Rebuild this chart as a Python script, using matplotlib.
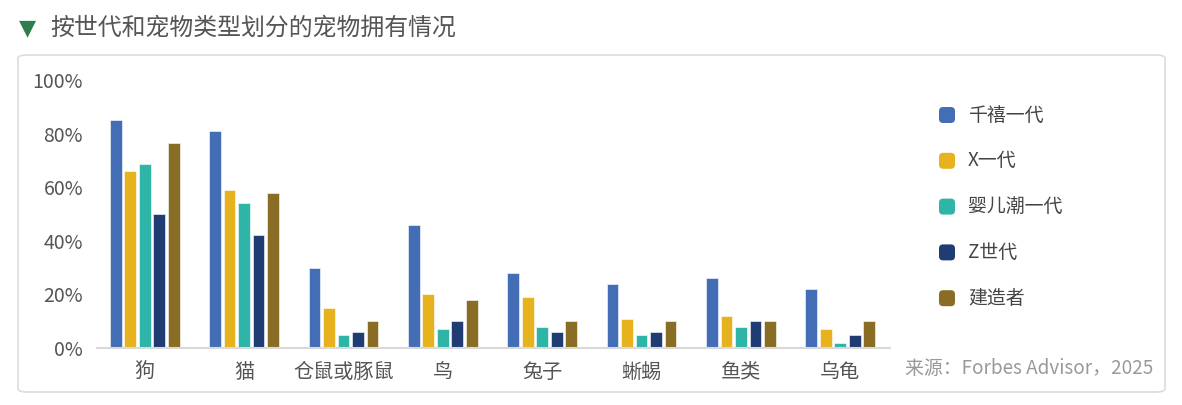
import numpy as np
import matplotlib.pyplot as plt
from matplotlib.patches import FancyBboxPatch

plt.rcParams['font.family'] = ['Noto Sans CJK SC', 'DejaVu Sans']

# 数据
categories = ['狗', '猫', '仓鼠或豚鼠', '鸟', '兔子', '蜥蜴', '鱼类', '乌龟']
series_names = ['千禧一代', 'X一代', '婴儿潮一代', 'Z世代', '建造者']
millennials = [85, 81, 30, 46, 28, 24, 26, 22]
gen_x = [66, 59, 15, 20, 19, 11, 12, 7]
boomers = [68.5, 54, 5, 7, 8, 5, 8, 2]
gen_z = [50, 42, 6, 10, 6, 6, 10, 5]
builders = [76.5, 58, 10, 18, 10, 10, 10, 10]
yticks = [0, 20, 40, 60, 80, 100]

colors = ['#436db5', '#e6b31e', '#2fb5a8', '#1f3c73', '#8a6d24']

W, H = 1182, 405
fig = plt.figure(figsize=(W / 100, H / 100), dpi=100)

# 卡片背景
card = FancyBboxPatch((18 / W, 13 / H), 1147 / W, 337 / H,
                      boxstyle='round,pad=0,rounding_size=0.008',
                      transform=fig.transFigure, facecolor='white',
                      edgecolor='#dcdcdc', linewidth=1.2, zorder=-10)
fig.patches.append(card)

# 标题
fig.text(19 / W, 1 - 28 / H, '▼', color='#2e7d4f', fontsize=16,
         va='center', ha='left', family=['DejaVu Sans'])
fig.text(50 / W, 1 - 28 / H, '按世代和宠物类型划分的宠物拥有情况',
         color='#555555', fontsize=17.2, va='center', ha='left')

ax = fig.add_axes([97 / W, 1 - 348 / H, 793 / W, 268 / H])
ax.set_facecolor('none')

x = np.arange(len(categories))
step = 0.146
width = 0.118
data = [millennials, gen_x, boomers, gen_z, builders]
for i, (vals, name, c) in enumerate(zip(data, series_names, colors)):
    ax.bar(x + (i - 2) * step, vals, width, color=c, label=name,
           edgecolor='white', linewidth=0.4, zorder=2)

ax.set_xlim(-0.48, 7.5)
ax.set_ylim(0, 100)
ax.set_yticks(yticks)
ax.set_yticklabels([f'{v}%' for v in yticks])
ax.set_xticks(x)
ax.set_xticklabels(categories)
ax.tick_params(axis='y', length=0, labelsize=14, labelcolor='#555555', pad=10)
ax.tick_params(axis='x', length=0, labelsize=14.5, labelcolor='#555555', pad=10)
for s in ['top', 'right', 'left']:
    ax.spines[s].set_visible(False)
ax.spines['bottom'].set_color('#d9d9d9')
ax.spines['bottom'].set_linewidth(1.5)

# 图例（圆角方块）
for i, (name, c) in enumerate(zip(series_names, colors)):
    yc = 115 + i * 45.8
    sq = FancyBboxPatch((939 / W, 1 - (yc + 8) / H), 16 / W, 16 / H,
                        boxstyle='round,pad=0,rounding_size=0.0035',
                        mutation_aspect=W / H,
                        transform=fig.transFigure, facecolor=c,
                        edgecolor='none')
    fig.patches.append(sq)
    fig.text(968 / W, 1 - yc / H, name, color='#444444', fontsize=13.6,
             va='center', ha='left')

fig.text(905 / W, 1 - 368 / H, '来源：Forbes Advisor，2025',
         color='#999999', fontsize=13.6, va='center', ha='left')

fig.savefig('out.png', dpi=100)
